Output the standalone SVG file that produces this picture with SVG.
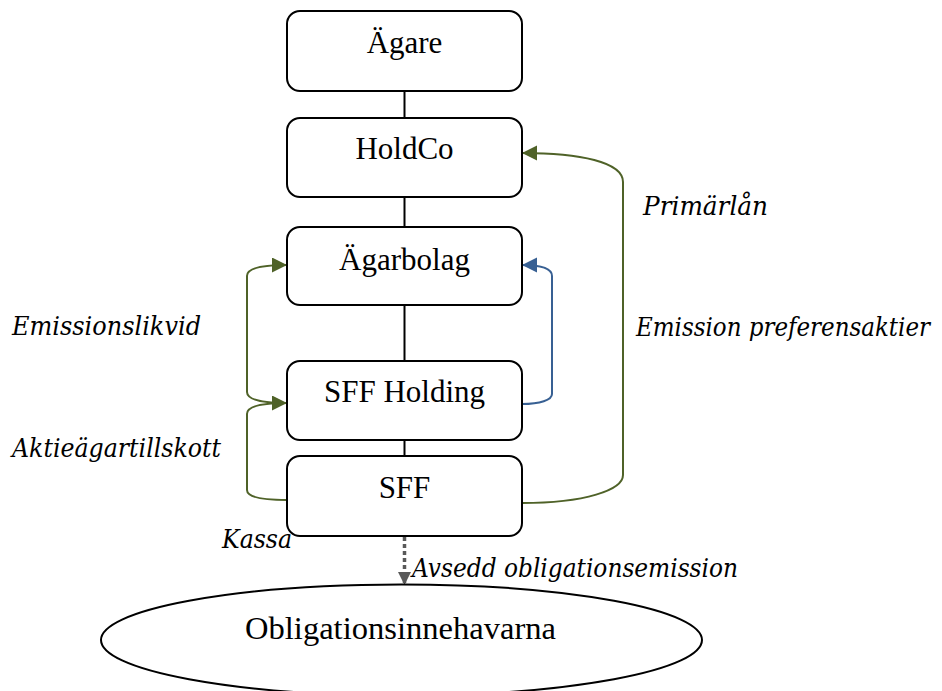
<svg xmlns="http://www.w3.org/2000/svg" width="942" height="691" viewBox="0 0 942 691">
<style>
.box{fill:#fff;stroke:#000;stroke-width:2}
.lbl{font-family:"Liberation Serif","Times New Roman",serif;font-size:31px;fill:#000;text-anchor:middle}
.it{font-family:"DejaVu Serif","Liberation Serif",serif;font-style:italic;font-size:26px;fill:#000}
.tie{stroke:#000;stroke-width:2;fill:none}
.g{stroke:#4f6228;stroke-width:2;fill:none;marker-end:url(#ag)}
.b{stroke:#386093;stroke-width:2;fill:none;marker-end:url(#ab)}
.d{stroke:#595959;stroke-width:3.5;stroke-dasharray:4 3;fill:none;marker-end:url(#ad)}
</style>
<defs>
<marker id="ag" markerWidth="16" markerHeight="16" refX="15" refY="7.5" orient="auto" markerUnits="userSpaceOnUse"><path d="M0,0 L15,7.5 L0,15 Z" fill="#4f6228"/></marker>
<marker id="ab" markerWidth="16" markerHeight="16" refX="15" refY="7.5" orient="auto" markerUnits="userSpaceOnUse"><path d="M0,0 L15,7.5 L0,15 Z" fill="#386093"/></marker>
<marker id="ad" markerWidth="14" markerHeight="14" refX="13" refY="6.5" orient="auto" markerUnits="userSpaceOnUse"><path d="M0,0 L13,6.5 L0,13 Z" fill="#595959"/></marker>
</defs>
<g id="connectors">
<line class="tie" x1="404.5" y1="91" x2="404.5" y2="118"/>
<line class="tie" x1="404.5" y1="197" x2="404.5" y2="227"/>
<line class="tie" x1="404.5" y1="305" x2="404.5" y2="361"/>
<line class="tie" x1="404.5" y1="439" x2="404.5" y2="456"/>
<path class="g" d="M287,403 C262,403 247,400 247,392 L247,276 C247,268 262,265 287,265"/>
<path class="g" d="M287,500 C262,500 247,497 247,490 L247,414 C247,406 262,403 287,403"/>
<path class="b" d="M522,404 C540,404 552,400 552,394 L552,276 C552,270 545,265 522,265"/>
<path class="g" d="M522,503 C585,503 623,490 623,475 L623,182 C623,162 580,153 522,153"/>
<path class="d" d="M404.5,537 L404.5,585"/>
</g>
<g id="agare"><rect class="box" x="287" y="11" width="235" height="80" rx="13"/><text class="lbl" x="404.5" y="53">Ägare</text></g>
<g id="holdco"><rect class="box" x="287" y="118" width="235" height="79" rx="13"/><text class="lbl" x="404.5" y="159">HoldCo</text></g>
<g id="agarbolag"><rect class="box" x="287" y="227" width="235" height="78" rx="13"/><text class="lbl" x="404.5" y="270">Ägarbolag</text></g>
<g id="sffholding"><rect class="box" x="287" y="361" width="235" height="79" rx="13"/><text class="lbl" x="404.5" y="402">SFF Holding</text></g>
<g id="sff"><rect class="box" x="287" y="456" width="235" height="80" rx="13"/><text class="lbl" x="404.5" y="498">SFF</text></g>
<g id="obligationsinnehavarna"><ellipse cx="401.5" cy="640" rx="300.5" ry="55.5" fill="#fff" stroke="#000" stroke-width="2"/><text class="lbl" x="400.5" y="639" textLength="311" lengthAdjust="spacingAndGlyphs">Obligationsinnehavarna</text></g>
<g id="labels">
<text class="it" x="643" y="215" textLength="125" lengthAdjust="spacingAndGlyphs">Primärlån</text>
<text class="it" x="636" y="336" font-size="24" textLength="294" lengthAdjust="spacingAndGlyphs">Emission preferensaktier</text>
<text class="it" x="12" y="335" textLength="189" lengthAdjust="spacingAndGlyphs">Emissionslikvid</text>
<text class="it" x="12" y="457" textLength="209" lengthAdjust="spacingAndGlyphs">Aktieägartillskott</text>
<text class="it" x="222" y="548" textLength="70" lengthAdjust="spacingAndGlyphs">Kassa</text>
<text class="it" x="412" y="577" textLength="326" lengthAdjust="spacingAndGlyphs">Avsedd obligationsemission</text>
</g>
</svg>
